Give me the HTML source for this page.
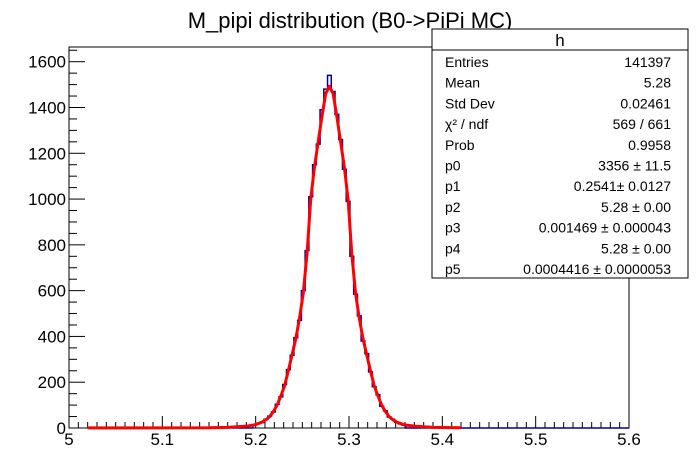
<!DOCTYPE html>
<html><head><meta charset="utf-8"><style>
html,body{margin:0;padding:0;background:#fff;}
svg{display:block;font-family:"Liberation Sans",Arial,sans-serif;}
</style></head><body>
<svg id="c" width="698" height="476" viewBox="0 0 698 476">
<text x="350" y="28" text-anchor="middle" font-size="22">M_pipi distribution (B0-&gt;PiPi MC)</text>
<rect x="69" y="47" width="560" height="381" fill="none" stroke="#000" stroke-width="1"/>
<g id="xaxis"></g>
<g id="yaxis"></g>
<g id="series"></g>
<g>
<rect x="432" y="29" width="256" height="249" fill="#fff" stroke="#000" stroke-width="1"/>
<line x1="432" y1="50" x2="688" y2="50" stroke="#000"/>
<text x="560" y="46" text-anchor="middle" font-size="17">h</text>
<g id="statrows" font-size="14"></g>
</g>
</svg>
<script>
const xTicks = [5, 5.1, 5.2, 5.3, 5.4, 5.5, 5.6];
const yTicks = [0, 200, 400, 600, 800, 1000, 1200, 1400, 1600];
const binCenters = [5.199,5.203,5.207,5.211,5.215,5.219,5.223,5.227,5.231,5.235,5.239,5.243,5.247,5.251,5.255,5.259,5.263,5.267,5.271,5.275,5.279,5.283,5.287,5.291,5.295,5.299,5.303,5.307,5.311,5.315,5.319,5.323,5.327,5.331,5.335,5.339,5.343,5.347,5.351,5.355,5.359];
const histValues = [14,20,24,38,52,70,104,136,190,255,318,395,470,600,775,1010,1150,1240,1390,1480,1540,1470,1370,1260,1130,990,750,585,490,380,325,245,180,145,95,75,48,38,25,18,12];
const fitX = [5.02,5.15,5.17,5.19,5.199,5.203,5.207,5.211,5.215,5.219,5.223,5.227,5.231,5.235,5.239,5.243,5.247,5.251,5.255,5.259,5.263,5.267,5.271,5.275,5.279,5.283,5.287,5.291,5.295,5.299,5.303,5.307,5.311,5.315,5.319,5.323,5.327,5.331,5.335,5.339,5.343,5.347,5.351,5.355,5.359,5.37,5.39,5.42];
const fitY = [0.5,1,3,8,14,20,26,36,50,72,100,140,185,250,320,390,480,590,760,1000,1140,1250,1360,1460,1493,1460,1360,1250,1140,1000,760,590,480,390,320,250,185,140,100,72,50,36,26,20,14,8,3,1];
const statLabels = ["Entries","Mean","Std Dev","\u03c7\u00b2 / ndf","Prob","p0","p1","p2","p3","p4","p5"];
const statValues = ["141397","5.28","0.02461","569 / 661","0.9958","3356 \u00b1 11.5","0.2541\u00b1 0.0127","5.28 \u00b1 0.00","0.001469 \u00b1 0.000043","5.28 \u00b1 0.00","0.0004416 \u00b1 0.0000053"];

const NS="http://www.w3.org/2000/svg";
const X0=69,X1=629,Y0=428,YT=61.7;
const sx=v=>X0+(v-5)/(0.6)*(X1-X0);
const sy=v=>Y0-v*(Y0-YT)/1600;
function mk(tag,attrs,parent){const e=document.createElementNS(NS,tag);for(const k in attrs)e.setAttribute(k,attrs[k]);parent.appendChild(e);return e;}
const xa=document.getElementById('xaxis'), ya=document.getElementById('yaxis'), se=document.getElementById('series');
for(let i=0;i<=60;i++){const v=5+i*0.01;const x=sx(v);const L=(i%10===0)?12:6;
 const t=mk('line',{x1:x,y1:Y0,x2:x,y2:Y0-L,stroke:'#000'},xa);
 
 }
xTicks.forEach(v=>{const t=mk('text',{x:sx(v),y:Y0+17,'text-anchor':'middle','font-size':'17'},xa);t.textContent=String(v);
 
 });
for(let v=0;v<=1650;v+=50){const y=sy(v);const L=(v%200===0)?16:8;
 const t=mk('line',{x1:X0,y1:y,x2:X0+L,y2:y,stroke:'#000'},ya);
 
 }
yTicks.forEach(v=>{const t=mk('text',{x:X0-3,y:sy(v)+6,'text-anchor':'end','font-size':'17'},ya);t.textContent=String(v);
 
 });
let d='M'+sx(5.02)+','+sy(0)+' L'+sx(binCenters[0]-0.002)+','+sy(0);
binCenters.forEach((c,i)=>{d+=' L'+sx(c-0.002)+','+sy(histValues[i])+' L'+sx(c+0.002)+','+sy(histValues[i]);});
d+=' L'+sx(binCenters[binCenters.length-1]+0.002)+','+sy(0)+' L'+sx(5.6)+','+sy(0);
const h=mk('path',{d:d,fill:'none',stroke:'#000099','stroke-width':'1.5'},se);


let fd='';fitX.forEach((x,i)=>{fd+=(i?' L':'M')+sx(x)+','+sy(fitY[i]);});
const f=mk('path',{d:fd,fill:'none',stroke:'#ff0000','stroke-width':'3','stroke-linejoin':'round'},se);


const sr=document.getElementById('statrows');
statLabels.forEach((l,i)=>{const y=67+i*20.7;
 const a=mk('text',{x:445,y:y},sr);a.textContent=l;
 
 
 const b=mk('text',{x:671,y:y,'text-anchor':'end'},sr);b.textContent=statValues[i];
 
 });
</script>
</body></html>
